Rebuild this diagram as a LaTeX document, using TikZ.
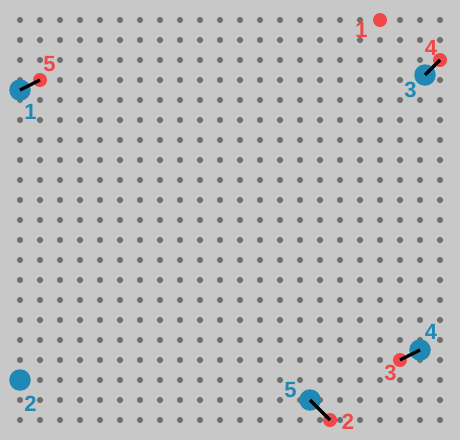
\documentclass[tikz,border=0pt]{standalone}
\usepackage{fontspec}
\setmainfont{Liberation Sans}
\definecolor{bg}{HTML}{C8C8C8}
\definecolor{dotc}{HTML}{6E6E6E}
\definecolor{redc}{HTML}{F04848}
\definecolor{bluec}{HTML}{2088B4}
\begin{document}
\begin{tikzpicture}[x=1pt,y=-1pt,
  bluept/.style={circle,fill=bluec,inner sep=0pt,minimum size=21.5pt},
  redpt/.style={circle,fill=redc,inner sep=0pt,minimum size=14pt},
  bluelab/.style={text=bluec,font=\bfseries\fontsize{22}{22}\selectfont,inner sep=0pt},
  redlab/.style={text=redc,font=\bfseries\fontsize{22}{22}\selectfont,inner sep=0pt},
  link/.style={line width=3.2pt,black}]
\fill[bg] (0,0) rectangle (460,440);
\useasboundingbox (0,0) rectangle (460,440);
\foreach \i in {1,...,22}{\foreach \j in {1,...,21}{\fill[dotc] (20*\i,20*\j) circle (3.1);}}
% blue points
\node[bluept] (b1) at (20,90) {};
\node[bluept] (b2) at (20,380) {};
\node[bluept] (b3) at (425,75) {};
\node[bluept] (b4) at (420,350) {};
\node[bluept] (b5) at (310,400) {};
% red points
\node[redpt] (r1) at (380,20) {};
\node[redpt] (r2) at (330,420) {};
\node[redpt] (r3) at (400,360) {};
\node[redpt] (r4) at (440,60) {};
\node[redpt] (r5) at (40,80) {};
% links
\draw[link] (b1.center) -- (r5.center);
\draw[link] (b3.center) -- (r4.center);
\draw[link] (b4.center) -- (r3.center);
\draw[link] (b5.center) -- (r2.center);
% labels
\node[bluelab] (lb1) at (30.5,112) {1};
\node[bluelab] (lb2) at (30.5,404) {2};
\node[bluelab] (lb3) at (410.5,90) {3};
\node[bluelab] (lb4) at (431,332) {4};
\node[bluelab] (lb5) at (290.5,390) {5};
\node[redlab] (lr1) at (361.5,30) {1};
\node[redlab] (lr2) at (348,422) {2};
\node[redlab] (lr3) at (390.5,373) {3};
\node[redlab] (lr4) at (431,47.5) {4};
\node[redlab] (lr5) at (49.5,64) {5};
\end{tikzpicture}
\end{document}
